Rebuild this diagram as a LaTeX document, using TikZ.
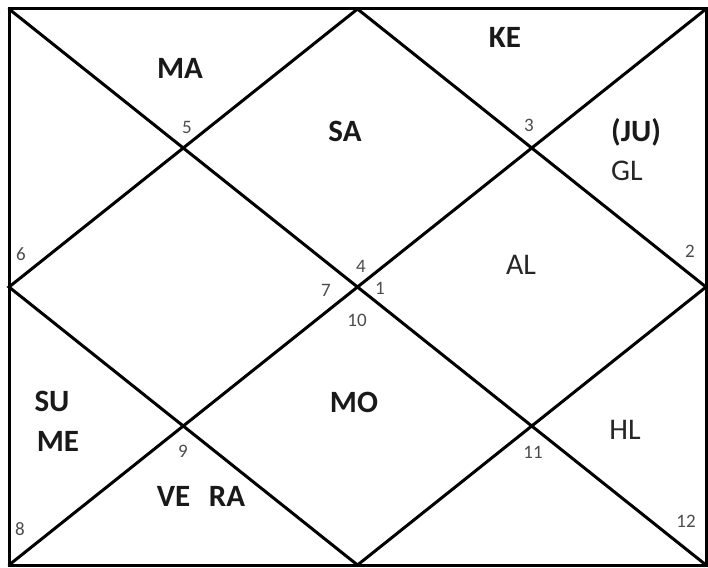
\documentclass[tikz,border=0pt]{standalone}
\usepackage{fontspec}
\setmainfont{Carlito}
\begin{document}
\begin{tikzpicture}[x=1pt,y=-1pt,
  grid/.style={line width=3pt,black,line cap=round,line join=miter},
  planet/.style={font=\fontsize{31}{33}\selectfont\bfseries,inner sep=0pt,text=black!90},
  lagna/.style={font=\fontsize{30}{32}\selectfont,inner sep=0pt,text=black!85},
  house/.style={font=\fontsize{19}{21}\selectfont,inner sep=0pt,text=black!70}]
\useasboundingbox (0,0) rectangle (708,567);
\coordinate (A) at (9,9);
\coordinate (B) at (706,9);
\coordinate (C) at (706,565);
\coordinate (D) at (9,565);
\coordinate (T) at (357.5,9);
\coordinate (R) at (706,287);
\coordinate (Bm) at (357.5,565);
\coordinate (L) at (9,287);
\draw[grid] (A) rectangle (C);
\draw[grid] (A) -- (C);
\draw[grid] (B) -- (D);
\draw[grid] (T) -- (R) -- (Bm) -- (L) -- cycle;
% planets
\node[planet] (ma) at (180,68) {MA};
\node[planet] (ke) at (505,37) {KE};
\node[planet] (sa) at (345,131) {SA};
\node[planet] (ju) at (636,132) {(JU)};
\node[lagna] (gl) at (627,171) {GL};
\node[lagna] (al) at (521,265) {AL};
\node[planet] (su) at (52,401) {SU};
\node[planet] (me) at (58,441) {ME};
\node[planet] (mo) at (354,402) {MO};
\node[lagna] (hl) at (625,430) {HL};
\node[planet] (vera) at (201,496) {VE\hspace{0.6em}RA};
% house numbers
\node[house] (h5) at (187,127) {5};
\node[house] (h3) at (529,125) {3};
\node[house] (h6) at (21,254) {6};
\node[house] (h2) at (690,251) {2};
\node[house] (h4) at (361,266) {4};
\node[house] (h7) at (326,290) {7};
\node[house] (h1) at (380,288) {1};
\node[house] (h10) at (357,320) {10};
\node[house] (h9) at (183,451) {9};
\node[house] (h11) at (533,452) {11};
\node[house] (h8) at (20,529) {8};
\node[house] (h12) at (686,521) {12};
\end{tikzpicture}
\end{document}
